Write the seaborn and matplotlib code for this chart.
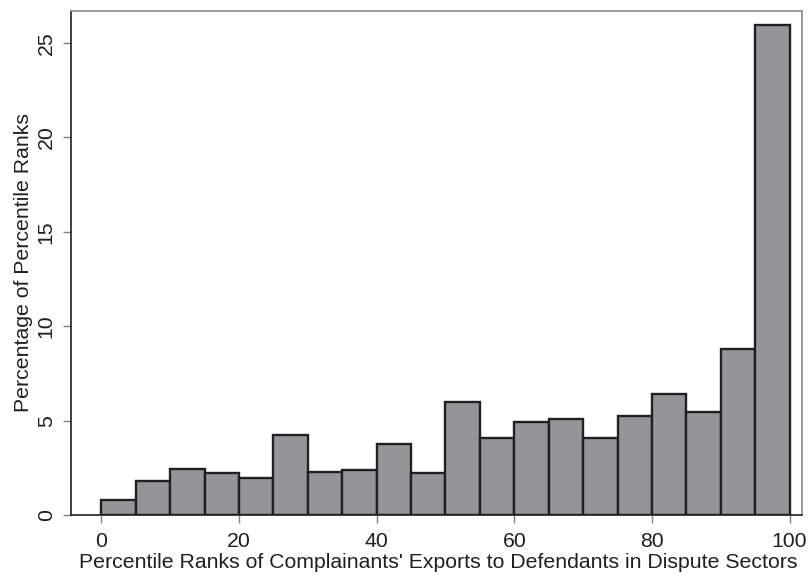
import numpy as np
import pandas as pd
import matplotlib
matplotlib.use("Agg")
import matplotlib.pyplot as plt
import seaborn as sns

# Histogram of percentile ranks: 20 bins of width 5 from 0 to 100
bin_left = [0, 5, 10, 15, 20, 25, 30, 35, 40, 45, 50, 55, 60, 65, 70, 75, 80, 85, 90, 95]
percent = [0.8, 1.8, 2.42, 2.23, 1.98, 4.26, 2.28, 2.37, 3.78, 2.21,
           5.97, 4.08, 4.95, 5.09, 4.08, 5.26, 6.43, 5.48, 8.8, 25.95]
bin_edges = bin_left + [100]
x_ticks = [0, 20, 40, 60, 80, 100]
y_ticks = [0, 5, 10, 15, 20, 25]
x_label = "Percentile Ranks of Complainants' Exports to Defendants in Dispute Sectors"
y_label = "Percentage of Percentile Ranks"

df = pd.DataFrame({"mid": np.array(bin_left) + 2.5, "pct": percent})

sns.set_theme(style="white")
plt.rcParams["font.family"] = ["Liberation Sans", "DejaVu Sans"]

fig = plt.figure(figsize=(8.12, 5.77), dpi=100)
ax = fig.add_axes([0.0874, 0.1075, 0.9003, 0.8735])

sns.histplot(data=df, x="mid", weights="pct", bins=bin_edges, ax=ax,
             color="#939598", alpha=1.0, edgecolor="#231f20", linewidth=1.7)

fs = 15.3
ax.set_xlim(-4.4, 101.8)
ax.set_ylim(0, 26.7)
ax.set_xticks(x_ticks)
ax.set_yticks(y_ticks)
ax.set_xticklabels([str(v) for v in x_ticks], fontsize=fs, color="#231f20")
ax.set_yticklabels([str(v) for v in y_ticks], fontsize=fs, color="#231f20",
                   rotation=90, va="center")
ax.tick_params(axis="both", which="major", length=6, width=1.0,
               color="#808080", direction="out", bottom=True, left=True)
ax.tick_params(axis="x", pad=6.3)
ax.tick_params(axis="y", pad=5)

ax.set_xlabel(x_label, fontsize=fs, color="#231f20")
ax.xaxis.set_label_coords(0.503, -0.075)
ax.set_ylabel(y_label, fontsize=fs, color="#231f20", labelpad=2.5)

for side in ["left", "bottom"]:
    ax.spines[side].set_color("#231f20")
    ax.spines[side].set_linewidth(1.2)
for side in ["top", "right"]:
    ax.spines[side].set_color("#8a8a8a")
    ax.spines[side].set_linewidth(1.2)

fig.savefig("out.png", dpi=100)
